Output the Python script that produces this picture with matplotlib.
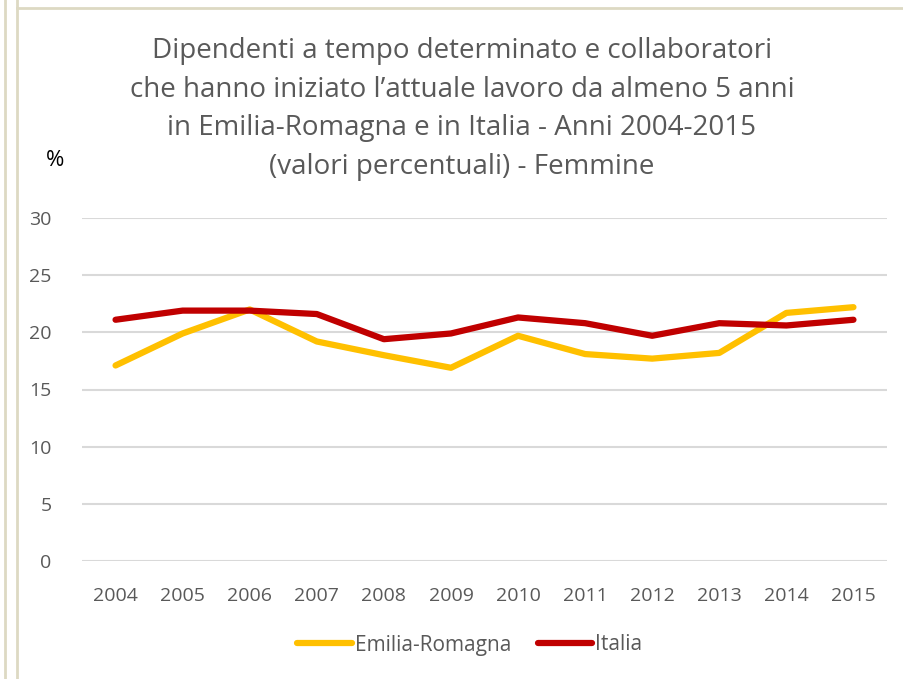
import matplotlib.pyplot as plt
from matplotlib.lines import Line2D

years = ['2004', '2005', '2006', '2007', '2008', '2009', '2010', '2011', '2012', '2013', '2014', '2015']
emilia_romagna = [17.1, 19.9, 22.0, 19.2, 18.0, 16.9, 19.7, 18.1, 17.7, 18.2, 21.7, 22.2]
italia = [21.1, 21.9, 21.9, 21.6, 19.4, 19.9, 21.3, 20.8, 19.7, 20.8, 20.6, 21.1]
y_ticks = [0, 5, 10, 15, 20, 25, 30]

plt.rcParams['font.family'] = ['Open Sans', 'DejaVu Sans']
text_col = '#595959'

fig = plt.figure(figsize=(9.04, 6.79), dpi=100)
W, H = 904, 679

# outer frame lines (page layout)
for x0 in (5, 17):
    fig.add_artist(Line2D([x0 / W, x0 / W], [0, 1], color='#DDD9C3', lw=2))
fig.add_artist(Line2D([17 / W, 1], [1 - 8 / H, 1 - 8 / H], color='#DDD9C3', lw=2))

ax = fig.add_axes([82 / W, 1 - 561 / H, (887 - 82) / W, (561 - 218) / H])
x = list(range(len(years)))
ax.plot(x, emilia_romagna, color='#FFC000', lw=4.5, solid_capstyle='round', solid_joinstyle='round', label='Emilia-Romagna')
ax.plot(x, italia, color='#C00000', lw=4.5, solid_capstyle='round', solid_joinstyle='round', label='Italia')

ax.set_xlim(-0.5, len(years) - 0.5)
ax.set_ylim(0, 30)
ax.set_yticks(y_ticks)
ax.set_xticks(x)
ax.set_xticklabels(years)
ax.grid(axis='y', color='#D9D9D9', lw=1.5)
ax.set_axisbelow(True)
for s in ax.spines.values():
    s.set_visible(False)
ax.tick_params(length=0, labelsize=14, colors=text_col)
ax.tick_params(axis='x', pad=19)
ax.tick_params(axis='y', pad=22)

fig.text(0.5 + 10 / W, 1 - 109 / H,
         "Dipendenti a tempo determinato e collaboratori\n"
         "che hanno iniziato l\u2019attuale lavoro da almeno 5 anni\n"
         "in Emilia-Romagna e in Italia - Anni 2004-2015\n"
         "(valori percentuali) - Femmine",
         ha='center', va='center', fontsize=20, color=text_col, linespacing=1.52)
fig.text(55 / W, 1 - 160 / H, '%', ha='center', va='center', fontsize=16, color='black')

leg = fig.legend(loc='center', bbox_to_anchor=(470 / W, 1 - 645 / H), ncol=2, frameon=False,
                 fontsize=15, handlelength=2.6, handletextpad=0.15, columnspacing=1.3)
for t in leg.get_texts():
    t.set_color(text_col)

fig.savefig('out.png', dpi=100)
